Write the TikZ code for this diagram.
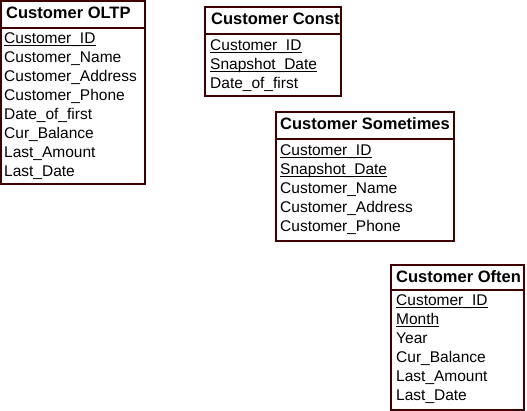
\documentclass[tikz,border=0pt]{standalone}
\usepackage{fontspec}
\setmainfont{Liberation Sans}
\definecolor{tableline}{RGB}{64,0,0}
\newcommand{\keyattr}[1]{\setbox0\hbox{#1}\rlap{\rule[-2.6pt]{\wd0}{1pt}}\box0}
\begin{document}
\begin{tikzpicture}
	[x=1pt,y=-1pt,
	field/.style={anchor=base west,inner sep=0pt,font=\fontsize{15.5}{19}\selectfont},
	title/.style={anchor=base west,inner sep=0pt,font=\fontsize{16.5}{19}\selectfont\bfseries},
	table/.style={draw=tableline,line width=2.8pt}]
	\useasboundingbox (0,0) rectangle (527,411);
	% Customer OLTP
	\draw[table] (1,1) rectangle (145,184) (1,28) -- (145,28);
	\node[title,name=oltp] at (6,19) {Customer OLTP};
	\node[field,name=oltp1] at (4,43.5) {\keyattr{Customer\_ID}};
	\node[field,name=oltp2] at (4,62.5) {Customer\_Name};
	\node[field,name=oltp3] at (4,81.5) {Customer\_Address};
	\node[field,name=oltp4] at (4,100.5) {Customer\_Phone};
	\node[field,name=oltp5] at (4,119.5) {Date\_of\_first};
	\node[field,name=oltp6] at (4,138.5) {Cur\_Balance};
	\node[field,name=oltp7] at (4,157.5) {Last\_Amount};
	\node[field,name=oltp8] at (4,176.5) {Last\_Date};
	% Customer Const
	\draw[table] (205,7) rectangle (341,96) (205,34) -- (341,34);
	\node[title,name=const] at (211,25) {Customer Const};
	\node[field,name=const1] at (210,50.5) {\keyattr{Customer\_ID}};
	\node[field,name=const2] at (210,69.5) {\keyattr{Snapshot\_Date}};
	\node[field,name=const3] at (210,88.5) {Date\_of\_first};
	% Customer Sometimes
	\draw[table] (276,112) rectangle (454,241) (276,139) -- (454,139);
	\node[title,name=some] at (280,130) {Customer Sometimes};
	\node[field,name=some1] at (280,155.5) {\keyattr{Customer\_ID}};
	\node[field,name=some2] at (280,174.5) {\keyattr{Snapshot\_Date}};
	\node[field,name=some3] at (280,193.5) {Customer\_Name};
	\node[field,name=some4] at (280,212.5) {Customer\_Address};
	\node[field,name=some5] at (280,231.5) {Customer\_Phone};
	% Customer Often
	\draw[table] (391,265) rectangle (524,410) (391,290) -- (524,290);
	\node[title,name=often] at (396,283) {Customer Often};
	\node[field,name=often1] at (396,305.5) {\keyattr{Customer\_ID}};
	\node[field,name=often2] at (396,324.5) {\keyattr{Month}};
	\node[field,name=often3] at (396,343.5) {Year};
	\node[field,name=often4] at (396,362.5) {Cur\_Balance};
	\node[field,name=often5] at (396,381.5) {Last\_Amount};
	\node[field,name=often6] at (396,400.5) {Last\_Date};
\end{tikzpicture}
\end{document}
